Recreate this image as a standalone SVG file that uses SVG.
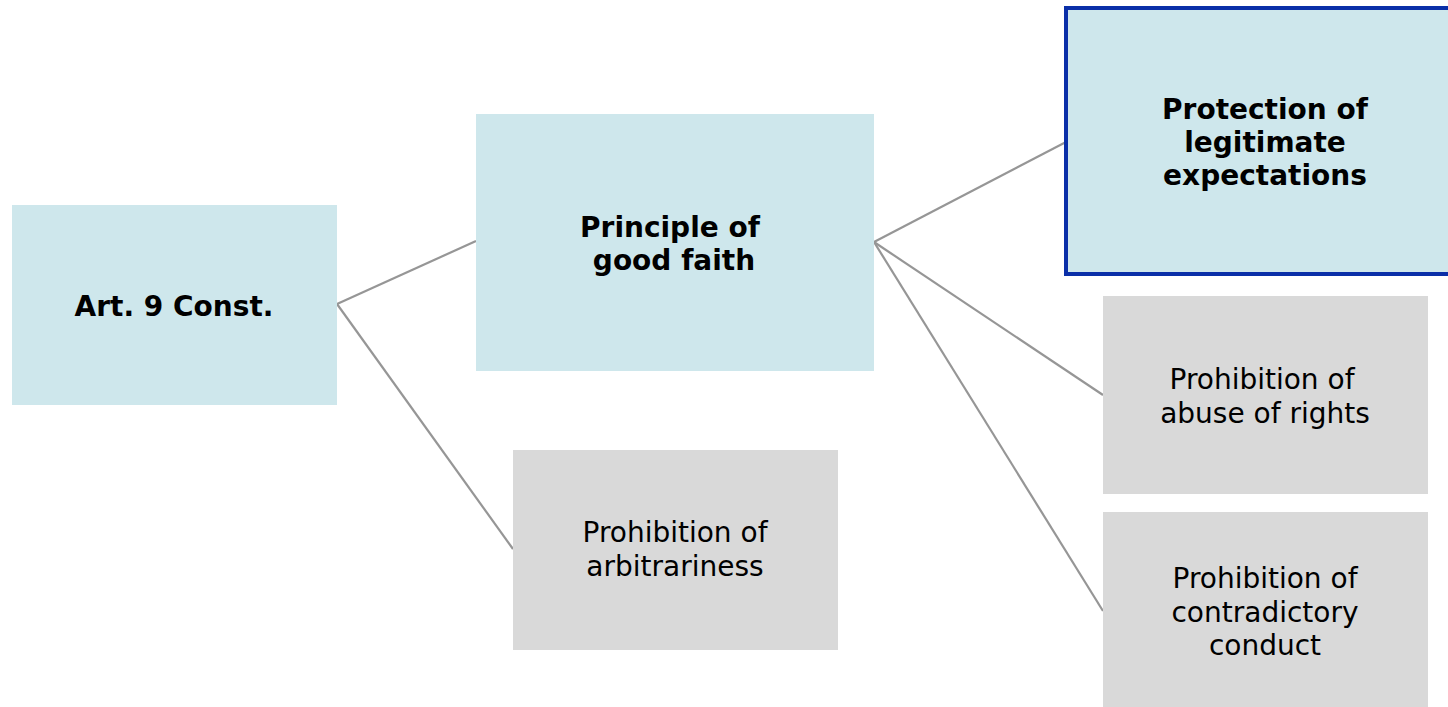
<svg xmlns="http://www.w3.org/2000/svg" width="1448" height="707" viewBox="0 0 1448 707">
<style>
.blue{fill:#CEE7EC}
.grey{fill:#D9D9D9}
.hl{stroke:#0A2FA8;stroke-width:4}
.conn{stroke:#969696;stroke-width:2.2;fill:none}
text{font-family:"DejaVu Sans",Verdana,sans-serif;font-size:28px;fill:#000;text-anchor:middle}
.b{font-weight:bold}
</style>
<rect width="1448" height="707" fill="#fff"/>
<g id="connectors">
<line class="conn" x1="337" y1="304" x2="476" y2="241"/>
<line class="conn" x1="337" y1="304" x2="513" y2="549"/>
<line class="conn" x1="874" y1="242" x2="1066" y2="142"/>
<line class="conn" x1="874" y1="242" x2="1103" y2="395"/>
<line class="conn" x1="874" y1="242" x2="1103" y2="611"/>
</g>
<g id="art9">
<rect class="blue" x="12" y="205" width="325" height="200"/>
<text class="b" x="174" y="316">Art. 9 Const.</text>
</g>
<g id="goodfaith">
<rect class="blue" x="476" y="114" width="398" height="257"/>
<text class="b" x="670" y="237">Principle of</text>
<text class="b" x="674" y="270">good faith</text>
</g>
<g id="expectations">
<rect class="blue hl" x="1066" y="8" width="400" height="266"/>
<text class="b" x="1265" y="119">Protection of</text>
<text class="b" x="1265" y="152">legitimate</text>
<text class="b" x="1265" y="185">expectations</text>
</g>
<g id="abuse">
<rect class="grey" x="1103" y="296" width="325" height="198"/>
<text x="1262" y="389">Prohibition of</text>
<text x="1265" y="423">abuse of rights</text>
</g>
<g id="contradictory">
<rect class="grey" x="1103" y="512" width="325" height="200"/>
<text x="1265" y="588">Prohibition of</text>
<text x="1265" y="622">contradictory</text>
<text x="1265" y="655">conduct</text>
</g>
<g id="arbitrariness">
<rect class="grey" x="513" y="450" width="325" height="200"/>
<text x="675" y="542">Prohibition of</text>
<text x="675" y="576">arbitrariness</text>
</g>
</svg>
